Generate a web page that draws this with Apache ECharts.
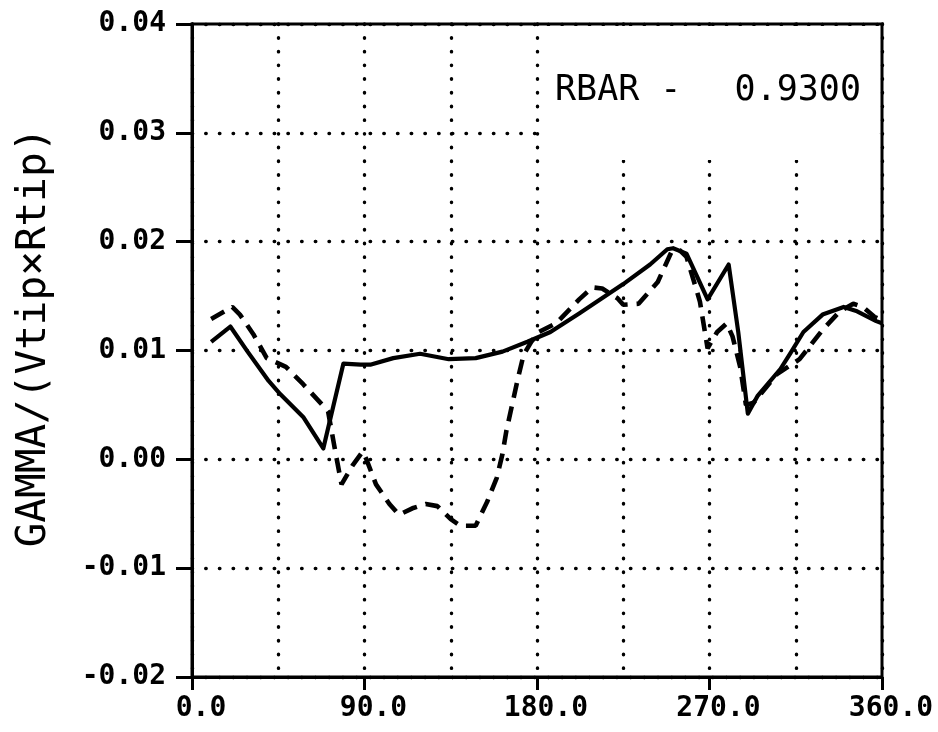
<!DOCTYPE html>
<html>
<head>
<meta charset="utf-8">
<script src="https://cdn.jsdelivr.net/npm/echarts@6/dist/echarts.min.js"></script>
<style>html,body{margin:0;padding:0;background:#fff}#c{width:938px;height:732px}</style>
</head>
<body>
<div id="c"></div>
<script>
// Solid curve
const solidX = [10,20,29,40,46,58,68.5,79,88,93,105,119,134,148,162,175,187,202,225,239,248,251,258,263,269,280,285,290,295,307,312,319,329,340,347,357,360];
const solidY = [0.0108,0.0122,0.0099,0.0072,0.0060,0.0039,0.0010,0.0088,0.0087,0.0087,0.0093,0.0097,0.0092,0.0093,0.0099,0.0108,0.0117,0.0134,0.0161,0.0179,0.0193,0.0194,0.0189,0.0170,0.0147,0.0179,0.0117,0.0042,0.0058,0.0083,0.0097,0.0117,0.0133,0.0140,0.0136,0.0127,0.0125];
// Dashed curve
const dashX = [10,21,25,32,39,49,58,68,71,75,78,84,89,91,96,103,108,115,122,128,135,140,148,154,159,162,164,167,170,173,177,181,190,202,209,214,222,225,233,243,250,254,258,263,265,269,274,279,282,286,289,293,305,317,329,338,345,350,356,360];
const dashY = [0.0129,0.0140,0.0133,0.0115,0.0093,0.0085,0.0069,0.0050,0.0044,0.0005,-0.0023,-0.0005,0.0007,0.0000,-0.0023,-0.0041,-0.0051,-0.0045,-0.0041,-0.0043,-0.0055,-0.0061,-0.0061,-0.0039,-0.0017,0.0005,0.0026,0.0050,0.0074,0.0096,0.0108,0.0117,0.0125,0.0147,0.0158,0.0157,0.0148,0.0142,0.0143,0.0163,0.0190,0.0193,0.0186,0.0157,0.0145,0.0102,0.0117,0.0125,0.0113,0.0085,0.0050,0.0052,0.0078,0.0092,0.0119,0.0136,0.0143,0.0140,0.0131,0.0128];
// Axis settings
const xMin = 0, xMax = 360, xStep = 90;
const yMin = -0.02, yMax = 0.04, yStep = 0.01;
const yName = 'GAMMA/(Vtip×Rtip)';
const rbarLabel = 'RBAR -';
const rbarValue = '0.9300';

const FONT = 'DejaVu Sans Mono';
const dotted = { color: '#000', width: 3.4, type: [0.5, 13.2], cap: 'round' };

const chart = echarts.init(document.getElementById('c'), null, { renderer: 'canvas' });
chart.setOption({
  animation: false,
  backgroundColor: '#fff',
  grid: { left: 192, right: 56, top: 24, bottom: 55, show: true, borderColor: '#000', borderWidth: 3, backgroundColor: 'transparent' },
  xAxis: {
    type: 'value', min: xMin, max: xMax, interval: xStep,
    axisLine: { show: true, onZero: false, lineStyle: { color: '#000', width: 3 } },
    axisTick: { show: true, inside: false, length: 13, lineStyle: { color: '#000', width: 3 } },
    minorTick: { show: false, splitNumber: 2 },
    splitLine: { show: true, lineStyle: dotted },
    minorSplitLine: { show: true, lineStyle: dotted },
    axisLabel: { color: '#000', fontFamily: FONT, fontSize: 28, fontWeight: 'bold', margin: 18, padding: [0, 0, 0, 18],
      formatter: v => v.toFixed(1) }
  },
  yAxis: {
    type: 'value', min: yMin, max: yMax, interval: yStep,
    name: yName, nameLocation: 'middle', nameGap: 137,
    nameTextStyle: { color: '#000', fontFamily: FONT, fontSize: 41, padding: [0, 0, 0, 26] },
    axisLine: { show: true, onZero: false, lineStyle: { color: '#000', width: 3 } },
    axisTick: { show: true, inside: false, length: 16, lineStyle: { color: '#000', width: 3 } },
    splitLine: { show: true, lineStyle: dotted },
    axisLabel: { color: '#000', fontFamily: FONT, fontSize: 28, fontWeight: 'bold', margin: 26,
      formatter: v => v.toFixed(2) }
  },
  graphic: [
    { type: 'rect', z: 5, shape: { x: 540, y: 26, width: 339, height: 134 }, style: { fill: '#fff' } },
    { type: 'text', z: 6, x: 555, y: 91, style: { text: rbarLabel, fontFamily: FONT, fontSize: 35, fill: '#000', verticalAlign: 'middle', align: 'left' } },
    { type: 'text', z: 6, x: 861, y: 91, style: { text: rbarValue, fontFamily: FONT, fontSize: 35, fill: '#000', verticalAlign: 'middle', align: 'right' } }
  ],
  series: [
    { type: 'line', data: solidX.map((x, i) => [x, solidY[i]]), showSymbol: false, symbol: 'none',
      lineStyle: { color: '#000', width: 4.2, type: 'solid', join: 'round' }, z: 3 },
    { type: 'line', data: dashX.map((x, i) => [x, dashY[i]]), showSymbol: false, symbol: 'none',
      lineStyle: { color: '#000', width: 4.6, type: [15, 9] }, z: 3 }
  ]
});
</script>
</body>
</html>
